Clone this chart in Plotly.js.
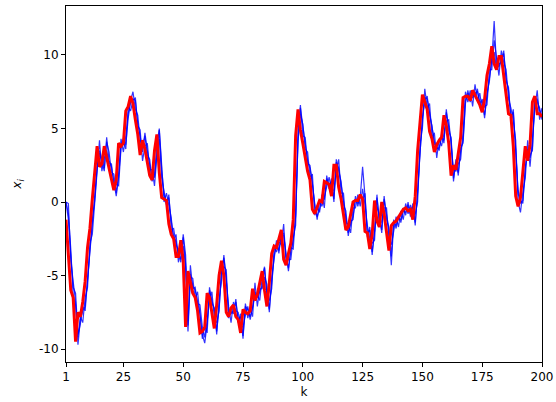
<!DOCTYPE html>
<html><head><meta charset="utf-8">
<script src="https://cdn.plot.ly/plotly-3.0.1.min.js"></script>
<style>html,body{margin:0;padding:0;background:#fff}#chart{width:556px;height:402px}</style>
</head><body><div id="chart"></div>
<script>
const xTickVals = [1, 25, 50, 75, 100, 125, 150, 175, 200];
const yTickVals = [-10, -5, 0, 5, 10];

const redTrue = [
 -1.2, -4.0, -6.0, -6.5, -9.5, -7.5, -7.8, -6.8, -5.4, -3.1,
 -1.8, 0.2, 2.0, 3.8, 2.4, 2.6, 3.8, 3.0, 2.2, 1.5,
 0.8, 1.5, 4.0, 3.8, 4.0, 6.2, 6.5, 7.2, 6.7, 5.6,
 4.6, 3.2, 4.2, 3.6, 2.6, 1.8, 1.5, 3.5, 4.6, 2.0,
 0.3, 0.2, 0.1, -1.5, -2.2, -2.5, -3.7, -3.7, -2.6, -4.0,
 -8.5, -4.7, -5.5, -6.2, -6.5, -7.4, -8.9, -8.8, -8.5, -6.2,
 -6.5, -7.5, -8.6, -7.0, -5.0, -4.0, -5.0, -7.5, -7.8, -7.2,
 -7.0, -7.8, -8.0, -8.9, -7.3, -7.5, -7.6, -7.4, -5.9, -6.7,
 -6.3, -5.5, -4.7, -6.0, -7.1, -5.5, -3.5, -3.0, -3.1, -2.5,
 -1.9, -3.9, -4.3, -3.5, -2.8, -1.2, 4.5, 6.3, 4.9, 4.0,
 3.0, 2.1, 1.5, -0.5, -0.8, -0.3, 0.1, 0.0, 1.4, 1.3,
 1.2, 0.4, 2.5, 2.5, 1.0, 0.2, -1.0, -1.9, -1.7, -0.8,
 0.0, 0.1, 0.1, 0.5, 0.2, -2.0, -2.1, -3.2, -2.2, 0.1,
 -1.3, -1.7, 0.0, -0.8, -2.1, -3.3, -1.6, -1.4, -1.3, -1.0,
 -0.8, -0.5, -0.4, -0.6, -0.5, -1.2, 0.4, 3.5, 5.4, 7.3,
 6.8, 6.3, 4.8, 4.3, 3.4, 3.9, 4.2, 4.4, 5.9, 5.2,
 4.0, 1.8, 2.5, 2.2, 3.3, 4.4, 7.1, 7.2, 7.2, 6.9,
 7.6, 7.3, 7.0, 6.6, 6.1, 7.0, 8.6, 9.4, 10.6, 9.4,
 9.0, 9.9, 9.9, 8.6, 7.4, 6.0, 5.9, 3.8, 0.4, -0.3,
 0.3, 2.0, 3.8, 2.8, 3.9, 6.8, 7.2, 6.0, 6.0, 5.8
];

const blueRun1 = [
 0.0, -0.8, -3.2, -6.4, -7.0, -9.7, -8.0, -7.4, -7.1, -5.0,
 -3.4, -1.5, 0.6, 2.4, 3.5, 2.9, 2.3, 4.1, 3.4, 2.0,
 1.9, 0.6, 1.9, 4.3, 3.4, 4.5, 6.0, 6.9, 7.5, 6.3,
 5.9, 4.2, 3.7, 4.5, 3.2, 2.9, 1.4, 1.9, 3.9, 5.0,
 2.4, 0.0, 0.6, -0.3, -1.1, -2.6, -2.2, -4.1, -3.3, -3.0,
 -4.4, -8.8, -5.1, -5.2, -6.6, -6.1, -7.8, -9.3, -8.4, -8.9,
 -5.8, -6.9, -7.2, -9.0, -6.6, -5.4, -3.6, -5.4, -7.1, -8.2,
 -6.8, -7.4, -7.5, -8.4, -8.5, -7.7, -7.1, -8.0, -7.0, -6.3,
 -6.3, -6.7, -5.1, -4.4, -6.4, -6.7, -5.9, -3.1, -3.4, -2.7,
 -2.9, -1.5, -4.2, -3.9, -3.9, -2.4, -1.6, 4.9, 6.6, 4.5,
 4.4, 2.6, 2.5, 1.1, -0.1, -1.2, 0.1, -0.3, 0.4, 1.0,
 1.7, 0.8, 0.8, 2.1, 2.9, 0.6, 0.6, -1.4, -1.5, -2.1,
 -0.4, -0.4, 0.5, -0.3, 0.9, -0.2, -1.6, -2.5, -2.8, -2.6,
 0.5, -1.7, -1.3, -0.4, -0.4, -2.5, -2.9, -2.0, -1.0, -1.7,
 -0.6, -1.2, -0.1, -0.8, -0.2, -0.9, -0.8, 0.0, 3.9, 5.0,
 7.7, 6.4, 6.7, 4.4, 4.7, 3.0, 4.3, 3.8, 4.8, 5.5,
 5.6, 3.6, 2.2, 2.1, 2.6, 2.9, 4.8, 7.5, 6.8, 7.6,
 6.5, 8.0, 6.9, 7.4, 6.2, 6.5, 6.6, 9.0, 9.0, 11.0,
 9.8, 8.6, 10.3, 9.5, 9.0, 7.0, 6.4, 5.5, 4.2, 0.0,
 -0.7, 0.7, 1.6, 4.2, 2.4, 4.3, 6.4, 7.6, 5.6, 6.4
];

const blueRun2 = [
 0.0, -0.1, -4.0, -5.6, -6.8, -9.2, -7.8, -8.2, -6.5, -5.8,
 -2.8, -2.2, -0.2, 1.6, 4.2, 2.1, 3.0, 3.5, 2.6, 2.6,
 1.1, 1.2, 1.1, 3.7, 4.2, 3.6, 6.5, 6.2, 6.9, 7.1,
 5.2, 4.9, 2.8, 3.8, 4.0, 2.2, 2.2, 1.1, 3.1, 4.3,
 1.6, 0.7, -0.2, 0.5, -1.9, -1.8, -2.9, -3.3, -4.1, -2.2,
 -3.6, -8.1, -4.3, -5.9, -5.8, -6.9, -7.0, -8.5, -9.2, -8.1,
 -6.6, -6.1, -7.9, -8.2, -7.4, -4.6, -4.4, -4.6, -7.9, -7.4,
 -7.6, -6.6, -8.2, -7.6, -9.3, -6.9, -7.9, -7.2, -7.8, -5.5,
 -7.1, -5.9, -5.9, -5.1, -5.6, -7.5, -5.1, -3.9, -2.6, -3.5,
 -2.1, -2.3, -3.5, -4.7, -3.1, -3.2, -0.8, 4.1, 6.0, 5.3,
 3.6, 3.4, 1.7, 1.9, -0.9, -0.4, -0.7, 0.5, -0.4, 1.8,
 0.9, 1.6, 0.0, 2.9, 2.1, 1.4, -0.2, -0.6, -2.3, -1.3,
 -1.2, 0.4, -0.3, 0.5, 0.1, 0.6, -2.4, -1.7, -3.6, -1.8,
 -0.3, -0.9, -2.1, 0.4, -1.2, -1.7, -3.7, -1.2, -1.8, -0.9,
 -1.4, -0.4, -0.9, 0.0, -1.0, -0.1, -1.6, 0.8, 3.1, 5.8,
 6.9, 7.2, 5.9, 5.2, 3.9, 3.8, 3.5, 4.6, 4.0, 6.3,
 4.8, 4.4, 1.4, 2.9, 1.8, 3.7, 4.0, 6.7, 7.6, 6.8,
 7.3, 7.2, 7.7, 6.6, 7.0, 5.7, 7.4, 8.2, 9.8, 10.2,
 9.0, 9.4, 9.5, 10.3, 8.2, 7.8, 5.6, 6.3, 3.4, 0.8,
 0.1, -0.1, 2.4, 3.4, 3.2, 3.5, 7.2, 6.8, 6.4, 5.6
];

const blueRun3 = [
 0.0, -1.2, -3.6, -5.8, -6.2, -9.0, -8.3, -7.1, -7.4, -5.2,
 -3.6, -1.2, 0.1, 2.3, 3.3, 2.7, 2.1, 4.4, 2.8, 2.4,
 1.3, 0.4, 1.7, 3.8, 4.3, 3.9, 5.7, 6.8, 7.0, 6.9,
 5.3, 4.5, 3.4, 4.7, 3.5, 2.4, 1.6, 1.7, 3.3, 4.9,
 2.2, 0.5, -0.1, 0.3, -1.3, -2.4, -2.7, -3.5, -3.9, -2.4,
 -4.2, -8.4, -4.9, -5.7, -6.0, -6.7, -7.6, -9.0, -9.6, -8.3,
 -6.0, -6.7, -7.3, -8.8, -7.2, -4.8, -3.8, -5.2, -7.7, -7.6,
 -7.4, -6.8, -8.0, -7.8, -9.1, -7.1, -7.3, -7.8, -7.2, -6.1,
 -6.5, -6.1, -5.7, -4.5, -6.2, -7.3, -5.3, -3.7, -2.8, -3.3,
 -2.3, -2.1, -3.7, -4.5, -3.3, -2.6, -1.0, 4.3, 6.4, 5.1,
 4.2, 2.8, 2.3, 1.3, -0.3, -1.0, -0.5, 0.3, 0.2, 1.6,
 1.1, 1.4, 0.2, 2.7, 2.3, 1.2, 0.0, -0.8, -2.1, -1.5,
 -1.0, 0.2, -0.1, 0.3, 2.4, 0.4, -2.2, -1.9, -3.4, -2.0,
 0.3, -1.1, -1.9, 0.2, -1.0, -1.9, -4.3, -1.4, -1.6, -1.1,
 -1.2, -0.6, -0.7, -0.2, -0.8, -0.3, -1.4, 0.6, 3.3, 5.6,
 7.1, 7.0, 6.1, 5.0, 4.1, 3.6, 3.7, 4.4, 4.2, 6.1,
 5.0, 4.2, 1.6, 2.7, 2.0, 3.5, 4.2, 6.9, 7.4, 7.0,
 7.1, 7.4, 7.5, 6.8, 6.8, 5.9, 7.2, 8.4, 9.6, 12.3,
 9.2, 9.2, 9.7, 10.1, 8.4, 7.6, 5.8, 6.1, 3.6, 0.6,
 -0.1, 0.1, 2.2, 3.6, 3.0, 3.7, 7.0, 7.0, 6.2, 5.8
];

const kSteps = redTrue.map((_, i) => i + 1);
const blueRuns = [blueRun1, blueRun2, blueRun3];

const traces = blueRuns.map(arr => ({
  x: kSteps, y: arr, type: 'scatter', mode: 'lines',
  line: {color: 'rgba(0,0,255,0.8)', width: 1.2},
  hoverinfo: 'skip', showlegend: false
}));
traces.push({
  x: kSteps, y: redTrue, type: 'scatter', mode: 'lines',
  line: {color: '#ff0000', width: 3},
  showlegend: false
});

const axisCommon = {
  showgrid: false, zeroline: false, showline: true, mirror: true,
  linecolor: '#000', linewidth: 1, ticks: 'outside', ticklen: 4,
  tickwidth: 1, tickcolor: '#000',
  tickfont: {family: 'DejaVu Sans', size: 12, color: '#000'}
};

const layout = {
  width: 556, height: 402,
  margin: {l: 66, r: 14, t: 6, b: 40},
  paper_bgcolor: '#fff', plot_bgcolor: '#fff',
  showlegend: false,
  xaxis: Object.assign({}, axisCommon, {
    range: [1, 200], tickmode: 'array', tickvals: xTickVals,
    ticktext: xTickVals.map(String),
    title: {text: 'k', font: {family: 'DejaVu Sans', size: 12, color: '#000'}, standoff: 4}
  }),
  yaxis: Object.assign({}, axisCommon, {
    range: [-10.88, 13.33], tickmode: 'array', tickvals: yTickVals,
    ticktext: yTickVals.map(String),
    title: {text: '<i>x<sub>i</sub></i>', font: {family: 'DejaVu Sans', size: 12, color: '#000'}, standoff: 14}
  })
};

Plotly.newPlot('chart', traces, layout, {displayModeBar: false, staticPlot: true});
</script>
</body></html>
